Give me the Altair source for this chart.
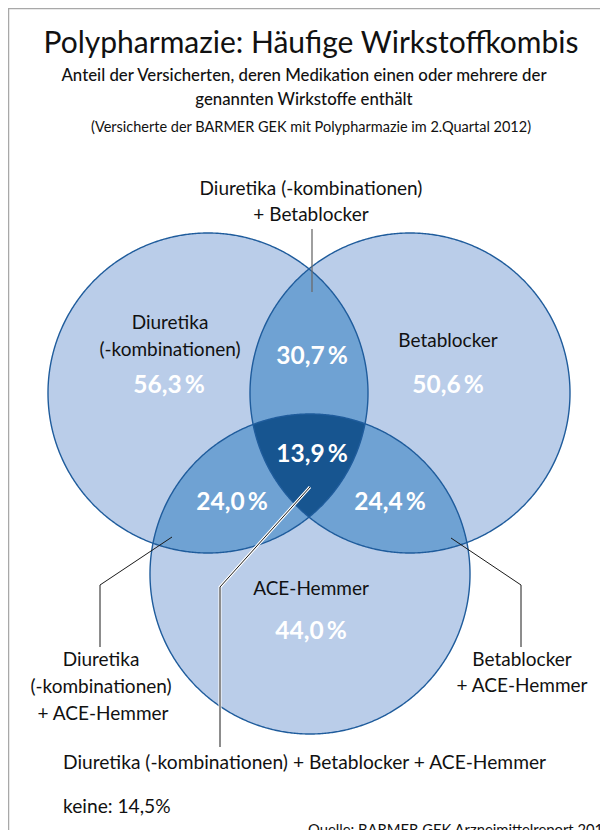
import math
import altair as alt

# ---------------- data ----------------
TITLE = "Polypharmazie: Häufige Wirkstoffkombis"
SUBTITLE = ["Anteil der Versicherten, deren Medikation einen oder mehrere der",
            "genannten Wirkstoffe enthält"]
NOTE = "(Versicherte der BARMER GEK mit Polypharmazie im 2.Quartal 2012)"
SOURCE = "Quelle: BARMER GEK Arzneimittelreport 2013"

set_keys = ["D", "B", "A"]
set_labels = [["Diuretika", "(-kombinationen)"], ["Betablocker"], ["ACE-Hemmer"]]
set_values = [56.3, 50.6, 44.0]

pair_keys = ["DB", "DA", "BA"]
pair_labels = [["Diuretika (-kombinationen)", "+ Betablocker"],
               ["Diuretika", "(-kombinationen)", "+ ACE-Hemmer"],
               ["Betablocker", "+ ACE-Hemmer"]]
pair_values = [30.7, 24.0, 24.4]

triple_label = "Diuretika (-kombinationen) + Betablocker + ACE-Hemmer"
triple_value = 13.9
none_value = 14.5

# ---------------- layout (page pixels) ----------------
R = 160
circle_center = {"D": (208, 393), "B": (410, 393), "A": (310, 574)}

set_label_pos = {"D": [(170, 323), (170, 350)], "B": [(448, 341)], "A": [(311, 589)]}
set_value_pos = {"D": (169, 386), "B": (448, 386), "A": (311, 632)}
pair_value_pos = {"DB": (312, 357), "DA": (232, 503), "BA": (390, 503)}
pair_label_pos = {"DB": [(311, 189), (311, 215)],
                  "DA": [(101, 660), (101, 687), (103, 714)],
                  "BA": [(522, 660), (522, 686)]}
triple_value_pos = (312, 455)
callouts = {"DB": [(312, 229), (312, 292)],
            "DA": [(172, 537), (100, 585), (100, 647)],
            "BA": [(451, 538), (521, 585), (521, 647)],
            "T": [(310, 487), (220, 587), (220, 747)]}

FONT = "Lato"
LIGHT = "#bacde9"
MID = "#6fa2d3"
DARK = "#175590"
EDGE = "#1f5c9c"

PROJ = dict(type="identity", scale=1, translate=[-8, -8])


def fmt(v):
    return f"{v:.1f}".replace(".", ",") + "\u2009%"


def circle_pts(c, n=1440):
    return [(c[0] + R * math.cos(2 * math.pi * i / n), c[1] + R * math.sin(2 * math.pi * i / n))
            for i in range(n)]


def inside(p, c):
    return (p[0] - c[0]) ** 2 + (p[1] - c[1]) ** 2 <= R * R + 1e-6


def region(keys):
    pts = []
    for k in keys:
        for p in circle_pts(circle_center[k]):
            if all(inside(p, circle_center[j]) for j in keys if j != k):
                pts.append(p)
    mx = sum(p[0] for p in pts) / len(pts)
    my = sum(p[1] for p in pts) / len(pts)
    pts.sort(key=lambda p: math.atan2(p[1] - my, p[0] - mx))
    ring = [list(p) for p in pts] + [list(pts[0])]
    return {"type": "Feature", "properties": {},
            "geometry": {"type": "Polygon", "coordinates": [ring]}}


def line_feature(pts):
    return {"type": "Feature", "properties": {},
            "geometry": {"type": "LineString", "coordinates": [list(p) for p in pts]}}


def shape_layer(features, **kw):
    return alt.Chart(alt.Data(values=features)).mark_geoshape(**kw).project(**PROJ)


def text_layer(rows, **kw):
    return (alt.Chart(alt.Data(values=rows))
            .mark_text(font=FONT, **kw)
            .encode(longitude="x:Q", latitude="y:Q", text="t:N")
            .project(**PROJ))


circles = [region([k]) for k in set_keys]
lenses = [region([p[0], p[1]]) for p in pair_keys]
triple = [region(set_keys)]
outlines = [line_feature(circle_pts(circle_center[k], 720) + [circle_pts(circle_center[k], 720)[0]])
            for k in set_keys]

frame = [line_feature([(8.5, 860), (8.5, 8.5), (640, 8.5)])]

layers = [
    shape_layer(frame, filled=False, stroke="#a8a8a8", strokeWidth=1.5),
    shape_layer(circles, fill=LIGHT, stroke=None, strokeWidth=0),
    shape_layer(lenses, fill=MID, stroke=None, strokeWidth=0),
    shape_layer(triple, fill=DARK, stroke=None, strokeWidth=0),
    shape_layer(outlines, filled=False, stroke=EDGE, strokeWidth=1.4),
    shape_layer([line_feature(callouts["T"])], filled=False, stroke="white", strokeWidth=3),
    shape_layer([line_feature(callouts[k]) for k in ["DA", "BA", "T"]],
                filled=False, stroke="#1a1a1a", strokeWidth=1),
    shape_layer([line_feature(callouts["DB"])], filled=False, stroke="#6b6b6b", strokeWidth=1.3),
]

# texts
title_rows = [{"x": 311, "y": 44, "t": TITLE}]
sub_rows = [{"x": 304, "y": 76, "t": SUBTITLE[0]}, {"x": 304, "y": 100, "t": SUBTITLE[1]}]
note_rows = [{"x": 311, "y": 128, "t": NOTE}]

label_rows = []
for k, lines in zip(set_keys, set_labels):
    for (x, y), t in zip(set_label_pos[k], lines):
        label_rows.append({"x": x, "y": y, "t": t})
for k, lines in zip(pair_keys, pair_labels):
    for (x, y), t in zip(pair_label_pos[k], lines):
        label_rows.append({"x": x, "y": y, "t": t})

value_rows = []
for k, v in zip(set_keys, set_values):
    x, y = set_value_pos[k]
    value_rows.append({"x": x, "y": y, "t": fmt(v)})
for k, v in zip(pair_keys, pair_values):
    x, y = pair_value_pos[k]
    value_rows.append({"x": x, "y": y, "t": fmt(v)})
value_rows.append({"x": triple_value_pos[0], "y": triple_value_pos[1], "t": fmt(triple_value)})

bottom_rows = [{"x": 63, "y": 763, "t": triple_label},
               {"x": 63, "y": 807, "t": "keine: " + f"{none_value:.1f}".replace(".", ",") + "%"}]
source_rows = [{"x": 308, "y": 831, "t": SOURCE}]

layers += [
    text_layer(title_rows, fontSize=30, baseline="middle", align="center", color="#111"),
    text_layer(sub_rows, fontSize=16.8, baseline="middle", align="center", color="#111", fontWeight=500),
    text_layer(note_rows, fontSize=14.5, baseline="middle", align="center", color="#111"),
    text_layer(label_rows, fontSize=19, baseline="middle", align="center", color="#111"),
    text_layer(value_rows, fontSize=24.5, baseline="middle", align="center", color="white", fontWeight="bold"),
    text_layer(bottom_rows, fontSize=19.2, baseline="middle", align="left", color="#111"),
    text_layer(source_rows, fontSize=14.8, baseline="middle", align="left", color="#111"),
]

chart = alt.layer(*layers).properties(
    width=592, height=822, padding=0,
    autosize=alt.AutoSizeParams(type="none"),
    background="white",
).configure_view(stroke=None)

chart.save("out.html", embed_options={"renderer": "svg", "actions": False})
